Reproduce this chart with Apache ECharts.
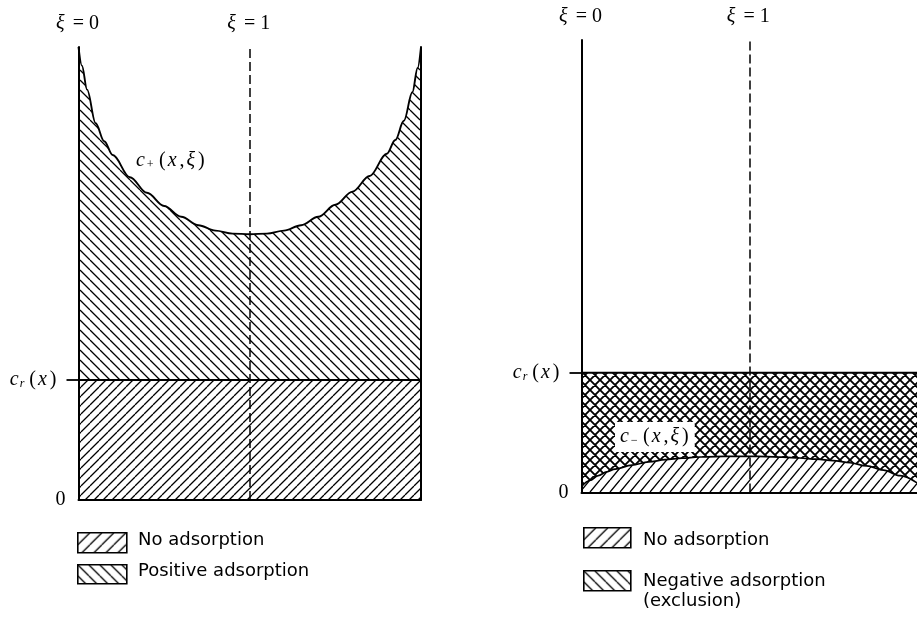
<!DOCTYPE html>
<html>
<head>
<meta charset="utf-8">
<script src="https://cdn.jsdelivr.net/npm/echarts@6/dist/echarts.min.js"></script>
<style>
  html, body { margin: 0; padding: 0; background: #fff; }
  #chart { width: 917px; height: 621px; }
</style>
</head>
<body>
<div id="chart"></div>
<script>
// Concentration across a slit pore, from wall (ξ = 0) over mid-plane (ξ = 1) to wall (ξ = 2)
const XI_UP = [0, 0.02, 0.05, 0.1, 0.15, 0.2, 0.3, 0.4, 0.5, 0.6, 0.7, 0.8, 0.9, 1.0,
               1.1, 1.2, 1.3, 1.4, 1.5, 1.6, 1.7, 1.8, 1.85, 1.9, 1.95, 1.98, 2.0];
// positive adsorption: c+(x, ξ)
const C_PLUS = [3.775, 3.62, 3.42, 3.14, 2.99, 2.875, 2.69, 2.56, 2.45, 2.36, 2.29, 2.245, 2.22, 2.215,
                2.22, 2.245, 2.29, 2.36, 2.46, 2.57, 2.70, 2.885, 3.0, 3.16, 3.40, 3.60, 3.775];

const XI_LO = [0, 0.05, 0.1, 0.15, 0.2, 0.3, 0.4, 0.5, 0.6, 0.7, 0.8, 0.9, 1.0,
               1.1, 1.2, 1.3, 1.4, 1.5, 1.6, 1.7, 1.8, 1.9, 2.0];
// negative adsorption (exclusion): c-(x, ξ)
const C_MINUS = [0.05, 0.1, 0.14, 0.172, 0.195, 0.228, 0.255, 0.274, 0.287, 0.296, 0.3, 0.302, 0.302,
                 0.3, 0.295, 0.288, 0.278, 0.266, 0.248, 0.222, 0.186, 0.14, 0.08];

const C_R = 1;              // bulk concentration c_r(x)
const XI_MID = 1;           // pore mid-plane
const XI_LABELS = [0, 1];   // ξ marks along the top
const Y_LABELS = [0, 1];    // 0 and c_r(x)
const Y_MAX = 3.775;

const LEGEND_LEFT = ['No adsorption', 'Positive adsorption'];
const LEGEND_RIGHT = ['No adsorption', 'Negative adsorption\n(exclusion)'];

const BLACK = '#000';
const SERIF = '"Liberation Serif", "Times New Roman", serif';
const SANS = '"DejaVu Sans", sans-serif';

// Tiled line-hatch fill: '/' rising, '\\' falling, both for cross-hatch
function hatch(w, h, dirs, lw) {
  const c = document.createElement('canvas');
  c.width = w; c.height = h;
  const g = c.getContext('2d');
  g.fillStyle = '#fff';
  g.fillRect(0, 0, w, h);
  g.strokeStyle = BLACK;
  g.lineWidth = lw;
  g.beginPath();
  for (const d of dirs) {
    for (let k = -1; k <= 1; k++) {
      if (d === '/') { g.moveTo(k * w, h); g.lineTo(k * w + w, 0); }
      else { g.moveTo(k * w, 0); g.lineTo(k * w + w, h); }
    }
  }
  g.stroke();
  return { image: c, repeat: 'repeat' };
}

const FILL_NONE_L = hatch(9, 9, ['/'], 1.3);
const FILL_POS = hatch(10, 10, ['\\'], 1.3);
const FILL_NONE_R = hatch(10, 12, ['/'], 1.4);
const FILL_NEG = hatch(10, 10, ['/', '\\'], 1.9);
const LEG_FWD = hatch(12, 12, ['/'], 1.3);
const LEG_BACK = hatch(11, 11, ['\\'], 1.3);

const pairs = (xs, ys) => xs.map((x, i) => [x, ys[i]]);
const flat = (xs, v) => [[xs[0], v], [xs[xs.length - 1], v]];

const rich = {
  i: { fontFamily: SERIF, fontStyle: 'italic', fontSize: 20, color: BLACK, lineHeight: 24, padding: [0, 1, 0, 0] },
  n: { fontFamily: SERIF, fontSize: 20, color: BLACK, lineHeight: 24, padding: [0, 2, 0, 2] },
  s: { fontFamily: SERIF, fontStyle: 'italic', fontSize: 12, color: BLACK, lineHeight: 24,
       verticalAlign: 'bottom', padding: [0, 3, 2, 0] },
  g: { width: 9 }
};

const crLabel = '{i|c}{s|r}{n|(}{i|x}{n|)}';

function axesFor(gi, withRightWall) {
  const xb = {
    type: 'value', gridIndex: gi, min: 0, max: 2, z: 10,
    axisLine: { show: true, onZero: false, lineStyle: { color: BLACK, width: 2 } },
    axisTick: { show: false }, axisLabel: { show: false }, splitLine: { show: false }
  };
  const xt = {
    type: 'value', gridIndex: gi, position: 'top', min: 0, max: 2,
    axisLine: { show: false }, axisTick: { show: false }, splitLine: { show: false },
    axisLabel: {
      show: true, customValues: XI_LABELS, margin: 11, rich: rich,
      formatter: v => '{i|ξ}{n| = ' + v + '}'
    }
  };
  const yl = {
    type: 'value', gridIndex: gi, min: 0, max: Y_MAX, z: 10,
    axisLine: { show: true, onZero: false, lineStyle: { color: BLACK, width: 2 } },
    axisTick: { show: true, customValues: [C_R], length: 12, lineStyle: { color: BLACK, width: 1.8 } },
    axisLabel: {
      show: true, customValues: Y_LABELS, margin: 11, rich: rich,
      formatter: v => (v === 0 ? '{n|0}' : crLabel + '{g|}')
    },
    splitLine: { show: false }
  };
  const axes = { x: [xb, xt], y: [yl] };
  if (withRightWall) {
    axes.y.push({
      type: 'value', gridIndex: gi, position: 'right', min: 0, max: Y_MAX, z: 10,
      axisLine: { show: true, onZero: false, lineStyle: { color: BLACK, width: 2 } },
      axisTick: { show: false }, axisLabel: { show: false }, splitLine: { show: false }
    });
  }
  return axes;
}

const A = axesFor(0, true);
const B = axesFor(1, false);

// hatched region below a profile (no outline; outlines are drawn on top separately)
const filled = (xi, yi, data, fill, z, smooth) => ({
  type: 'line', xAxisIndex: xi, yAxisIndex: yi, data: data, z: z, silent: true,
  smooth: smooth ? 0.35 : false, smoothMonotone: 'x', symbol: 'none',
  lineStyle: { width: 0, opacity: 0 },
  areaStyle: { color: fill, opacity: 1 }
});
// profile outline
const outline = (xi, yi, data, w, smooth) => ({
  type: 'line', xAxisIndex: xi, yAxisIndex: yi, data: data, z: 7, silent: true,
  smooth: smooth ? 0.35 : false, smoothMonotone: 'x', symbol: 'none',
  lineStyle: { color: BLACK, width: w }
});
const midLine = (xi, yi) => ({
  type: 'line', xAxisIndex: xi, yAxisIndex: yi, data: [], z: 8, silent: true,
  markLine: {
    silent: true, symbol: ['none', 'none'], label: { show: false },
    lineStyle: { color: BLACK, width: 1.5, type: [9, 4] },
    data: [{ xAxis: XI_MID }]
  }
});

const option = {
  backgroundColor: '#fff',
  animation: false,
  grid: [
    { left: 78.5, width: 342.5, top: 47, bottom: 121 },
    { left: 581.5, width: 338, top: 40, bottom: 128.5 }
  ],
  xAxis: [...A.x, ...B.x],
  yAxis: [...A.y, ...B.y],
  series: [
    // left panel: positive adsorption above c_r, no adsorption below
    filled(0, 0, pairs(XI_UP, C_PLUS), FILL_POS, 2, true),
    filled(0, 0, flat(XI_UP, C_R), FILL_NONE_L, 3, false),
    outline(0, 0, pairs(XI_UP, C_PLUS), 1.9, true),
    outline(0, 0, flat(XI_UP, C_R), 2, false),
    midLine(0, 0),
    // right panel: exclusion between c- and c_r, no adsorption below c-
    filled(2, 2, flat(XI_LO, C_R), FILL_NEG, 2, false),
    filled(2, 2, pairs(XI_LO, C_MINUS), FILL_NONE_R, 3, true),
    outline(2, 2, flat(XI_LO, C_R), 2, false),
    outline(2, 2, pairs(XI_LO, C_MINUS), 1.7, true),
    midLine(2, 2)
  ],
  graphic: [
    {
      type: 'text', left: 136, top: 151, z: 20,
      style: { text: '{i|c}{s|+}{n|(}{i|x}{n|,}{i|ξ}{n|)}', rich: rich }
    },
    {
      type: 'text', left: 615, top: 422, z: 20,
      style: {
        text: '{i|c}{s|−}{n|(}{i|x}{n|,}{i|ξ}{n|)}', rich: rich,
        backgroundColor: '#fff', padding: [3, 4, 3, 5]
      }
    },
    // legend, left panel
    { type: 'rect', left: 77, top: 532, z: 20, shape: { width: 49, height: 20 },
      style: { fill: LEG_FWD, stroke: BLACK, lineWidth: 1.6 } },
    { type: 'text', left: 138, top: 531, z: 20,
      style: { text: LEGEND_LEFT[0], font: '18px ' + SANS, fill: BLACK } },
    { type: 'rect', left: 77, top: 564, z: 20, shape: { width: 49, height: 19 },
      style: { fill: LEG_BACK, stroke: BLACK, lineWidth: 1.6 } },
    { type: 'text', left: 138, top: 562, z: 20,
      style: { text: LEGEND_LEFT[1], font: '18px ' + SANS, fill: BLACK } },
    // legend, right panel
    { type: 'rect', left: 583, top: 527, z: 20, shape: { width: 47, height: 20 },
      style: { fill: LEG_FWD, stroke: BLACK, lineWidth: 1.6 } },
    { type: 'text', left: 643, top: 531, z: 20,
      style: { text: LEGEND_RIGHT[0], font: '18px ' + SANS, fill: BLACK } },
    { type: 'rect', left: 583, top: 570, z: 20, shape: { width: 47, height: 20 },
      style: { fill: LEG_BACK, stroke: BLACK, lineWidth: 1.6 } },
    { type: 'text', left: 643, top: 571, z: 20,
      style: { text: LEGEND_RIGHT[1], font: '18px ' + SANS, fill: BLACK, lineHeight: 20 } }
  ]
};

echarts.init(document.getElementById('chart'), null, { renderer: 'canvas' }).setOption(option);
</script>
</body>
</html>
